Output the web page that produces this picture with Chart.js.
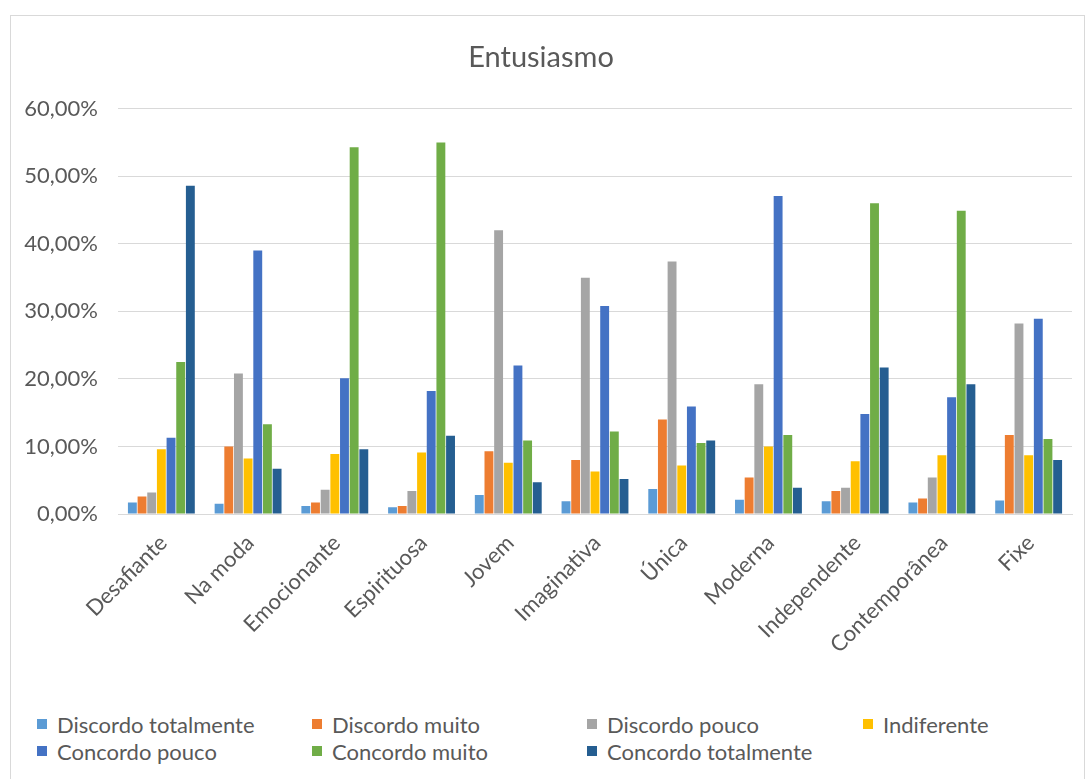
<!DOCTYPE html>
<html>
<head>
<meta charset="utf-8">
<script src="https://cdn.jsdelivr.net/npm/chart.js@4.4.1/dist/chart.umd.min.js"></script>
<style>
  body { margin: 0; background: #fff; font-family: Lato, sans-serif; }
  #frame { position: absolute; left: 10px; top: 15px; width: 1075px; height: 780px; border: 1px solid #d9d9d9; box-sizing: border-box; }
  #wrap { position: absolute; left: 10px; top: 15px; }
  #legend { position: absolute; left: 37px; top: 712px; display: grid; grid-template-columns: 275px 275px 276px 200px; row-gap: 3px; }
  .item { display: flex; align-items: center; font-size: 22px; color: #595959; height: 24px; white-space: nowrap; }
  .box { width: 10px; height: 10px; margin-right: 10px; flex: none; }
</style>
</head>
<body>
<div id="frame"></div>
<div id="wrap"><canvas id="chart-entusiasmo" width="1075" height="660"></canvas></div>
<div id="legend"></div>
<script>
// categorias e valores (%)
var categories = ["Desafiante", "Na moda", "Emocionante", "Espirituosa", "Jovem", "Imaginativa", "Única", "Moderna", "Independente", "Contemporânea", "Fixe"];

var discordoTotalmente = [1.7, 1.5, 1.2, 1.0, 2.8, 1.9, 3.7, 2.1, 1.9, 1.7, 2.0];
var discordoMuito      = [2.6, 10.0, 1.7, 1.2, 9.3, 8.0, 14.0, 5.4, 3.4, 2.3, 11.7];
var discordoPouco      = [3.2, 20.8, 3.6, 3.4, 42.0, 35.0, 37.4, 19.2, 3.9, 5.4, 28.2];
var indiferente        = [9.6, 8.2, 8.9, 9.1, 7.6, 6.3, 7.2, 10.0, 7.8, 8.7, 8.7];
var concordoPouco      = [11.3, 39.0, 20.1, 18.2, 22.0, 30.8, 15.9, 47.1, 14.8, 17.3, 28.9];
var concordoMuito      = [22.5, 13.3, 54.3, 55.0, 10.9, 12.2, 10.5, 11.7, 46.0, 44.9, 11.1];
var concordoTotalmente = [48.6, 6.7, 9.6, 11.6, 4.7, 5.2, 10.9, 3.9, 21.7, 19.2, 8.0];

var seriesNames  = ["Discordo totalmente", "Discordo muito", "Discordo pouco", "Indiferente", "Concordo pouco", "Concordo muito", "Concordo totalmente"];
var seriesData   = [discordoTotalmente, discordoMuito, discordoPouco, indiferente, concordoPouco, concordoMuito, concordoTotalmente];
var seriesColors = ["#5B9BD5", "#ED7D31", "#A5A5A5", "#FFC000", "#4472C4", "#70AD47", "#255E91"];

var yTicks = [0, 10, 20, 30, 40, 50, 60];

var chart;

function pct(v) {
  return v.toFixed(2).replace(".", ",") + "%";
}

function buildLegend() {
  var el = document.getElementById("legend");
  for (var i = 0; i < seriesNames.length; i++) {
    var item = document.createElement("div");
    item.className = "item";
    item.innerHTML = '<span class="box" style="background:' + seriesColors[i] + '"></span>' + seriesNames[i];
    el.appendChild(item);
  }
}

function initChart() {
  var datasets = [];
  for (var i = 0; i < seriesNames.length; i++) {
    datasets.push({
      label: seriesNames[i],
      data: seriesData[i],
      backgroundColor: seriesColors[i],
      borderWidth: 0,
      barPercentage: 0.92,
      categoryPercentage: 0.78
    });
  }

  var ctx = document.getElementById("chart-entusiasmo").getContext("2d");
  chart = new Chart(ctx, {
    type: "bar",
    data: { labels: categories, datasets: datasets },
    options: {
      responsive: false,
      animation: false,
      layout: { padding: { right: 13 } },
      plugins: {
        legend: { display: false },
        tooltip: { enabled: false },
        title: {
          display: true,
          text: "Entusiasmo",
          color: "#595959",
          font: { family: "Lato", size: 29, weight: "normal" },
          padding: { top: 25, bottom: 34 }
        }
      },
      scales: {
        x: {
          grid: { display: false },
          border: { color: "#d9d9d9" },
          ticks: {
            color: "#595959",
            font: { family: "Lato", size: 22 },
            minRotation: 45,
            maxRotation: 45,
            padding: 8,
            labelOffset: 2
          },
          afterFit: function (scale) { scale.height = 161; }
        },
        y: {
          min: 0,
          max: 60,
          afterBuildTicks: function (scale) {
            scale.ticks = yTicks.map(function (v) { return { value: v }; });
          },
          grid: { color: "#d9d9d9", drawTicks: false },
          border: { display: false },
          ticks: {
            color: "#595959",
            font: { family: "Lato", size: 22 },
            padding: 20,
            callback: function (v) { return pct(v); }
          },
          afterFit: function (scale) { scale.width = 108; }
        }
      }
    }
  });
}

buildLegend();
initChart();
</script>
</body>
</html>
